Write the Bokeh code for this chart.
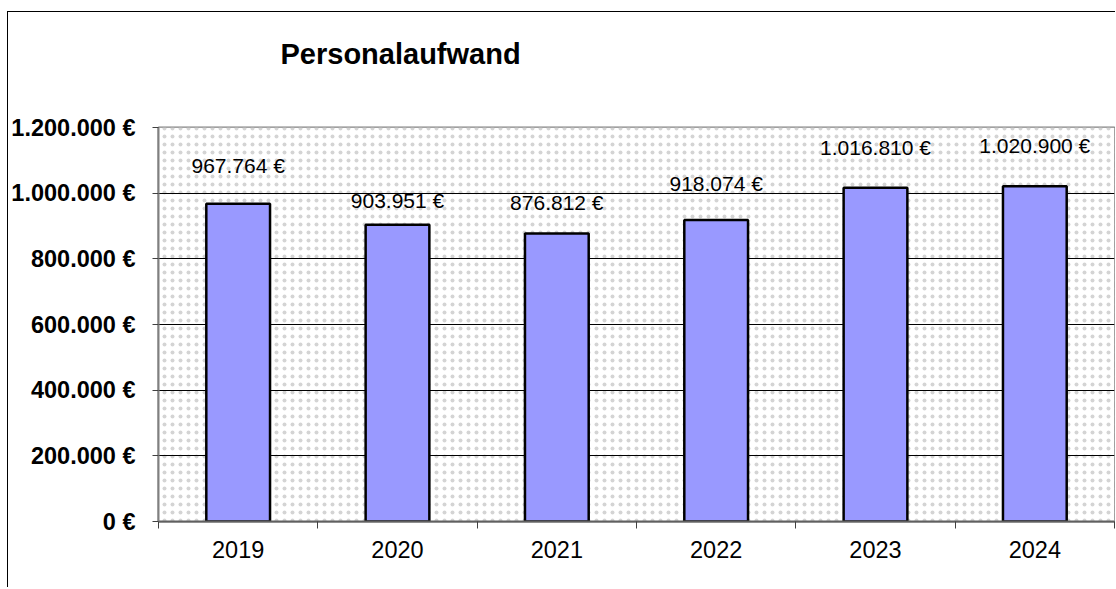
from bokeh.plotting import figure
from bokeh.models import (ColumnDataSource, LabelSet, BoxAnnotation, Range1d,
                          LinearAxis, FixedTicker, CustomJSTickFormatter)
from bokeh.core.properties import value
from bokeh.embed import file_html
from bokeh.resources import INLINE

years = ["2019", "2020", "2021", "2022", "2023", "2024"]
values = [967764, 903951, 876812, 918074, 1016810, 1020900]
value_labels = ["967.764 €", "903.951 €", "876.812 €", "918.074 €", "1.016.810 €", "1.020.900 €"]
y_ticks = [0, 200000, 400000, 600000, 800000, 1000000, 1200000]
title_text = "Personalaufwand"

# label vertical offsets in pixels above each bar top (style)
label_dy = [38, 24, 31, 37, 40, 41]

FONT = "Liberation Sans"
W, H = 1108, 576

p = figure(x_range=years, y_range=Range1d(0, 1200000), width=W, height=H,
           output_backend="svg", toolbar_location=None,
           min_border_left=150, min_border_right=2, min_border_top=115, min_border_bottom=67)
p.x_range.range_padding = 0
p.styles = {"border-top": "1px solid black", "border-left": "1px solid black",
            "margin-top": "11px", "margin-left": "7px"}
p.background_fill_color = "white"
p.border_fill_color = "white"
p.outline_line_color = "#808080"
p.outline_line_width = 2

# title
p.title.text = title_text
p.title.align = "left"
p.title.offset = 122
p.title.standoff = 0
p.title.padding = dict(left=0, right=0, top=0, bottom=58)
p.title.text_font = FONT
p.title.text_font_size = "29px"
p.title.text_font_style = "bold"
p.title.text_color = "black"

# dotted background
bg = BoxAnnotation(fill_color="white", fill_alpha=1.0, line_color=None,
                   hatch_pattern="dot", hatch_color="#d4d4d4", hatch_scale=8,
                   hatch_weight=1, level="image")
p.add_layout(bg)

src = ColumnDataSource(dict(x=years, top=values, lab=value_labels, dy=label_dy))
p.vbar(x="x", top="top", width=0.4, source=src, fill_color="#9999FF",
       line_color="black", line_width=2.5)

labels = LabelSet(x="x", y="top", text="lab", y_offset="dy", source=src,
                  text_align="center", text_baseline="middle",
                  text_font=value(FONT), text_font_size="21px", text_color="black")
p.add_layout(labels)

# grid
p.xgrid.grid_line_color = None
p.ygrid.grid_line_color = "black"
p.ygrid.grid_line_width = 1
p.ygrid.ticker = FixedTicker(ticks=y_ticks)

# y axis
ya = p.yaxis[0]
ya.ticker = FixedTicker(ticks=y_ticks)
ya.formatter = CustomJSTickFormatter(code="""
return tick.toFixed(0).replace(/\\B(?=(\\d{3})+(?!\\d))/g, '.') + ' €';
""")
ya.major_label_text_font = FONT
ya.major_label_text_font_size = "23.5px"
ya.major_label_text_font_style = "bold"
ya.major_label_text_color = "black"
ya.major_tick_out = 6
ya.major_tick_in = 0
ya.major_tick_line_color = "#404040"
ya.minor_tick_line_color = None
ya.axis_line_color = "#808080"
ya.axis_line_width = 2
ya.major_label_standoff = 17

# x axis (categorical labels)
xa = p.xaxis[0]
xa.major_label_text_font = FONT
xa.major_label_text_font_size = "23.5px"
xa.major_label_text_color = "black"
xa.major_tick_line_color = None
xa.axis_line_color = None
xa.major_label_standoff = 6

# tick axis at category boundaries (synthetic coordinates of the categorical range)
tax = LinearAxis(ticker=FixedTicker(ticks=list(range(len(years) + 1))),
                 formatter=CustomJSTickFormatter(code="return '';"),
                 major_tick_out=7, major_tick_in=0,
                 major_tick_line_color="#404040", minor_tick_line_color=None,
                 axis_line_color="#606060", axis_line_width=2, major_label_standoff=0)
p.below = [tax] + list(p.below)

open("out.html", "w").write(file_html(p, INLINE))
